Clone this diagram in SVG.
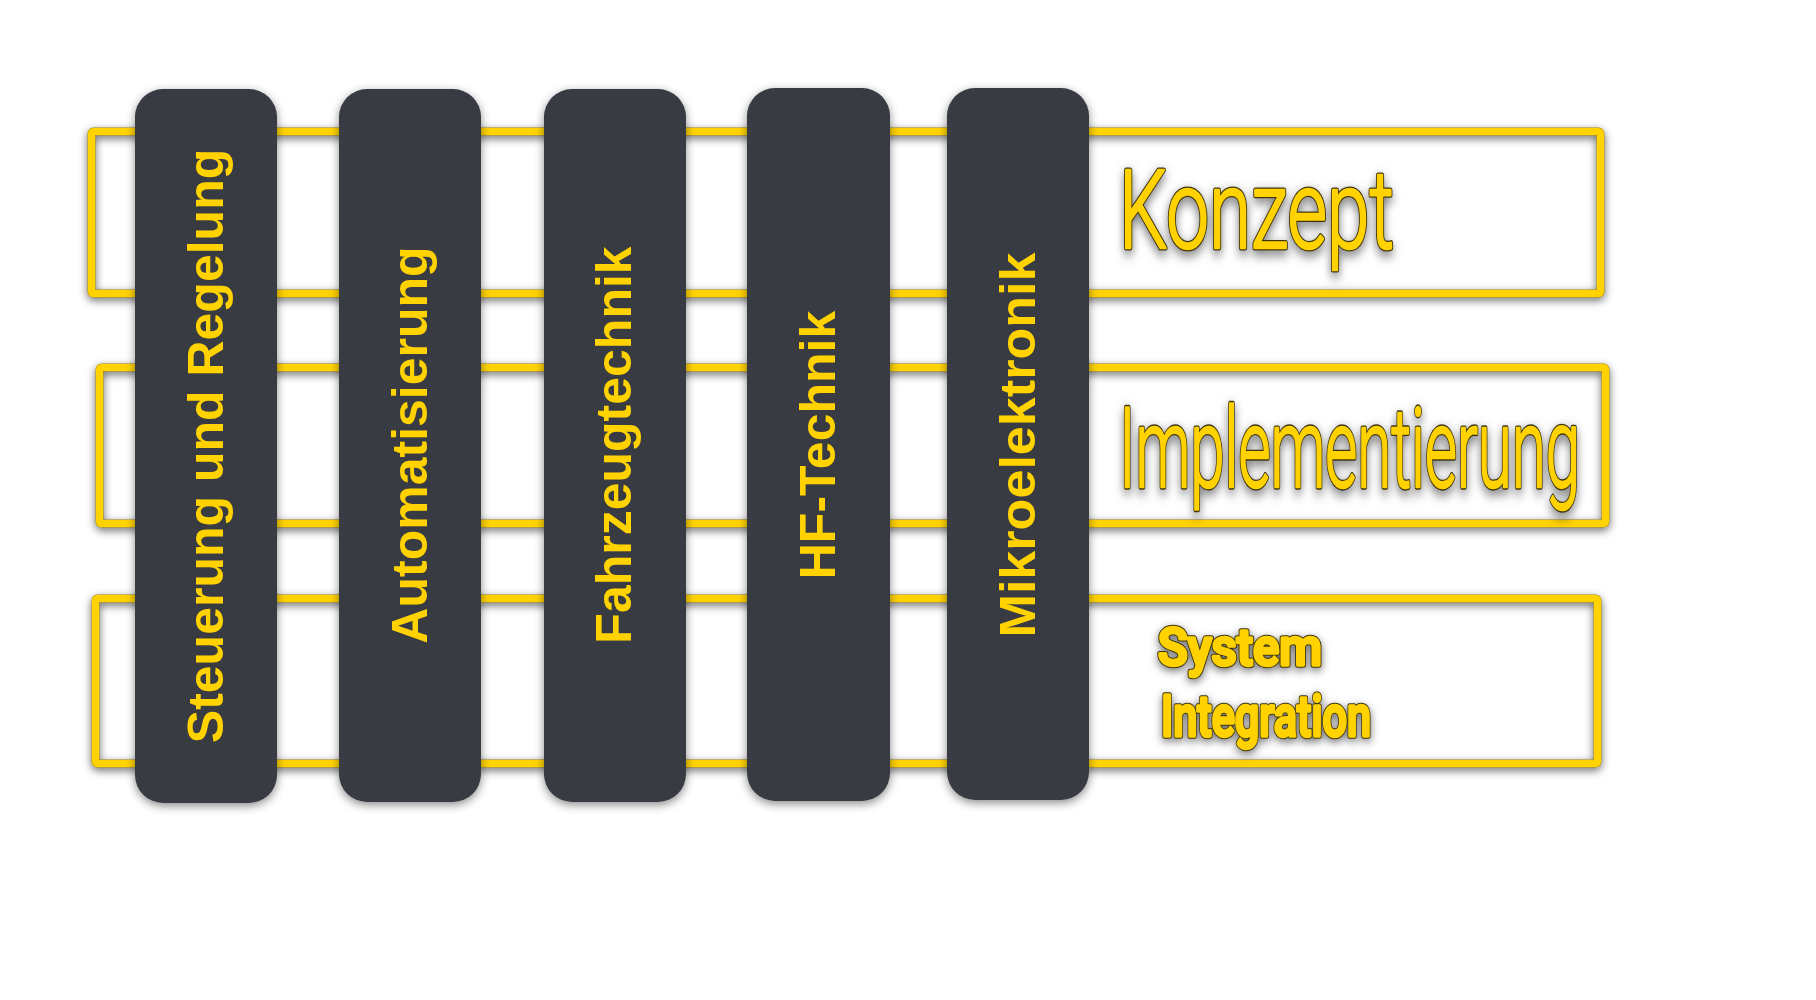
<svg xmlns="http://www.w3.org/2000/svg" width="1816" height="1000" viewBox="0 0 1816 1000">
<defs>
<filter id="sh" x="-5%" y="-15%" width="110%" height="130%">
<feDropShadow dx="0" dy="3" stdDeviation="4.5" flood-color="#000" flood-opacity="0.6"/>
</filter>
<filter id="shp" x="-30%" y="-5%" width="160%" height="110%">
<feDropShadow dx="0" dy="3" stdDeviation="5" flood-color="#000" flood-opacity="0.45"/>
</filter>
<filter id="sht" x="-10%" y="-20%" width="120%" height="140%">
<feDropShadow dx="0" dy="3" stdDeviation="4" flood-color="#000" flood-opacity="0.55"/>
</filter>
</defs>
<style>
.fo{fill:none;stroke:#9a8000;stroke-width:8}
.fi{fill:none;stroke:#FFD200;stroke-width:7}
.pil{fill:#373A43}
.pt{font-family:"Liberation Sans",Arial,sans-serif;font-weight:bold;font-size:50px;fill:#FFD200;text-anchor:middle}
.hw{font-family:Roboto,"Open Sans",sans-serif;font-weight:300;fill:#FFD200;stroke-linejoin:round;stroke-linecap:round}
.hwb{font-weight:500}
.hwo{stroke:#3d3510;stroke-width:3.5}
.hwi{stroke:#FFD200;stroke-width:1.8}
.hwo2{stroke:#3d3510;stroke-width:5.5}
.hwi2{stroke:#FFD200;stroke-width:3.5}
</style>
<rect width="1816" height="1000" fill="#ffffff"/>

<g id="frame-konzept">
<g filter="url(#sh)">
<rect class="fo" x="91.5" y="131.5" width="1509" height="162" rx="2"/>
<rect class="fi" x="91.5" y="131.5" width="1509" height="162" rx="2"/>
</g>
<g filter="url(#sht)" transform="translate(1119,248) scale(1,1.48)">
<text class="hw hwo" x="0" y="0" font-size="74" textLength="275" lengthAdjust="spacingAndGlyphs">Konzept</text>
<text class="hw hwi" x="0" y="0" font-size="74" textLength="275" lengthAdjust="spacingAndGlyphs">Konzept</text>
</g>
</g>

<g id="frame-implementierung">
<g filter="url(#sh)">
<rect class="fo" x="99.5" y="367.5" width="1506" height="156" rx="2"/>
<rect class="fi" x="99.5" y="367.5" width="1506" height="156" rx="2"/>
</g>
<g filter="url(#sht)" transform="translate(1119,487) scale(1,1.5)">
<text class="hw hwo" x="0" y="0" font-size="74" textLength="461" lengthAdjust="spacingAndGlyphs">Implementierung</text>
<text class="hw hwi" x="0" y="0" font-size="74" textLength="461" lengthAdjust="spacingAndGlyphs">Implementierung</text>
</g>
</g>

<g id="frame-system-integration">
<g filter="url(#sh)">
<rect class="fo" x="95.5" y="598.5" width="1502" height="165" rx="2"/>
<rect class="fi" x="95.5" y="598.5" width="1502" height="165" rx="2"/>
</g>
<g filter="url(#sht)">
<text class="hw hwb hwo2" x="1158" y="665" font-size="52" textLength="164" lengthAdjust="spacingAndGlyphs">System</text>
<text class="hw hwb hwi2" x="1158" y="665" font-size="52" textLength="164" lengthAdjust="spacingAndGlyphs">System</text>
<text class="hw hwb hwo2" x="1161" y="736" font-size="57" textLength="210" lengthAdjust="spacingAndGlyphs">Integration</text>
<text class="hw hwb hwi2" x="1161" y="736" font-size="57" textLength="210" lengthAdjust="spacingAndGlyphs">Integration</text>
</g>
</g>

<g id="pillar-steuerung">
<rect class="pil" x="135" y="89" width="142" height="714" rx="28" filter="url(#shp)"/>
<text class="pt" transform="translate(223,446) rotate(-90)">Steuerung und Regelung</text>
</g>
<g id="pillar-automatisierung">
<rect class="pil" x="339" y="89" width="142" height="713" rx="28" filter="url(#shp)"/>
<text class="pt" transform="translate(427,445) rotate(-90)">Automatisierung</text>
</g>
<g id="pillar-fahrzeugtechnik">
<rect class="pil" x="544" y="89" width="142" height="713" rx="28" filter="url(#shp)"/>
<text class="pt" transform="translate(631,445) rotate(-90)">Fahrzeugtechnik</text>
</g>
<g id="pillar-hf-technik">
<rect class="pil" x="747" y="88" width="143" height="713" rx="28" filter="url(#shp)"/>
<text class="pt" transform="translate(835,445) rotate(-90)">HF-Technik</text>
</g>
<g id="pillar-mikroelektronik">
<rect class="pil" x="947" y="88" width="142" height="712" rx="28" filter="url(#shp)"/>
<text class="pt" transform="translate(1035,445) rotate(-90)" textLength="385" lengthAdjust="spacingAndGlyphs">Mikroelektronik</text>
</g>
</svg>
